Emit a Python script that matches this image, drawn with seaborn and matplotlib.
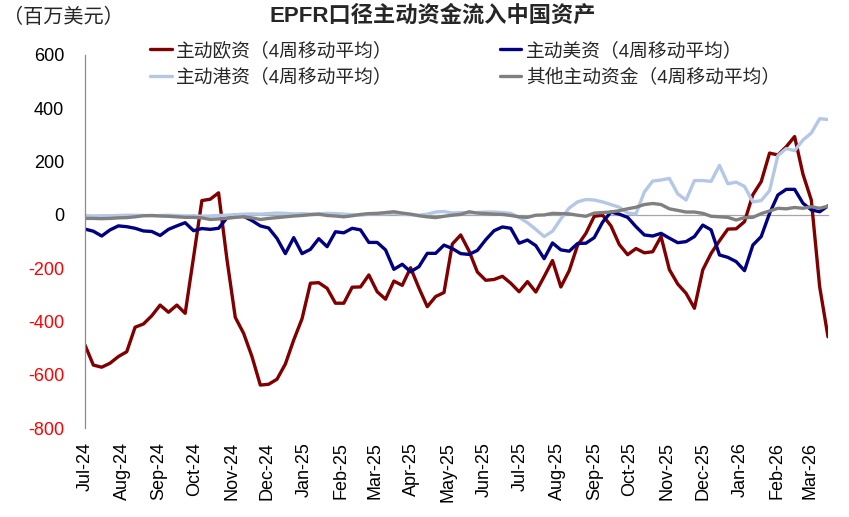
import numpy as np
import pandas as pd
import matplotlib
matplotlib.use("Agg")
import matplotlib.pyplot as plt
import matplotlib.dates as mdates
import seaborn as sns

# ---------------- data ----------------
start_date = "2024-07-03"          # weekly observations

eu = [-489, -564, -572, -557, -532, -514, -422, -410, -379, -339,
      -366, -339, -370, -160, 53, 58, 82, -167, -385, -445,
      -532, -639, -636, -617, -560, -470, -390, -257, -255, -276,
      -332, -332, -272, -271, -226, -289, -317, -249, -265, -199,
      -275, -345, -307, -292, -110, -76, -136, -215, -246, -243,
      -231, -257, -289, -251, -290, -232, -172, -271, -210, -115,
      -70, -6, -2, -42, -112, -150, -127, -143, -139, -82,
      -206, -260, -295, -351, -207, -145, -98, -54, -53, -26,
      75, 124, 231, 224, 255, 293, 152, 55, -270, -458]

us = [-54, -62, -80, -57, -42, -45, -51, -61, -63, -78,
      -55, -42, -30, -60, -52, -55, -51, -12, 0, -6,
      -22, -42, -50, -89, -146, -86, -146, -130, -90, -120,
      -64, -68, -51, -57, -104, -104, -132, -205, -186, -214,
      -195, -145, -145, -114, -127, -146, -149, -134, -94, -60,
      -46, -51, -107, -95, -116, -165, -106, -132, -137, -108,
      -107, -86, -28, 10, 2, -10, -45, -76, -80, -70,
      -88, -105, -101, -82, -39, -57, -151, -160, -176, -210,
      -114, -82, 5, 74, 95, 95, 43, 18, 11, 33]

hk = [-3, -5, -4, -4, -3, -2, -2, -3, -4, -3,
      -2, -3, -5, -4, -6, -5, -3, -2, 0, 2,
      3, 2, 4, 6, 5, 3, 4, 2, 3, 5,
      4, 2, 0, -2, 2, 4, 3, 6, 2, 0,
      -2, 2, 10, 12, 6, 8, 6, 8, 10, 10,
      8, 5, -10, -30, -55, -82, -62, -16, 25, 48,
      57, 55, 48, 38, 28, 6, 3, 85, 126, 130,
      136, 78, 55, 128, 128, 125, 185, 116, 122, 106,
      48, 53, 90, 222, 248, 240, 280, 306, 360, 357]

other = [-14, -14, -15, -14, -12, -11, -8, -4, -3, -5,
         -6, -8, -10, -10, -12, -18, -16, -14, -10, -8,
         -12, -18, -14, -11, -8, -5, -3, 0, 2, -3,
         -5, -8, -4, 1, 4, 5, 8, 11, 6, 2,
         -4, -8, -11, -6, -2, 1, 11, 6, 4, 2,
         1, -3, -8, -10, -2, -1, 5, 4, 3, -2,
         -6, 6, 8, 10, 15, 22, 28, 38, 42, 38,
         22, 16, 10, 10, 5, -6, -8, -10, -20, -11,
         -10, 4, 14, 24, 22, 27, 24, 30, 24, 32]

series_names = ["主动欧资（4周移动平均）", "主动美资（4周移动平均）",
                "主动港资（4周移动平均）", "其他主动资金（4周移动平均）"]
series_colors = ["#800000", "#000080", "#B4C7E7", "#808080"]
y_ticks = [-800, -600, -400, -200, 0, 200, 400, 600]
title_text = "EPFR口径主动资金流入中国资产"
unit_text = "（百万美元）"

# ---------------- style ----------------
sns.set_style("white")
plt.rcParams["font.family"] = ["Liberation Sans", "Noto Sans CJK SC"]
plt.rcParams["axes.unicode_minus"] = False

dates = pd.date_range(start_date, periods=len(eu), freq="7D")
df = pd.concat([pd.DataFrame({"date": dates, "value": v, "series": name})
                for v, name in zip([eu, us, hk, other], series_names)],
               ignore_index=True)

fig = plt.figure(figsize=(8.49, 5.17), dpi=100)
W, H = 849, 517
ax = fig.add_axes([85 / W, 1 - 428 / H, (828 - 85) / W, (428 - 54.7) / H])

sns.lineplot(data=df, x="date", y="value", hue="series", hue_order=series_names,
             palette=dict(zip(series_names, series_colors)), linewidth=2.4,
             ax=ax, legend=True, solid_joinstyle="round")

ax.set_xlim(dates[0], dates[-1])
ax.set_ylim(-800, 600)
ax.set_yticks(y_ticks, labels=[str(v) for v in y_ticks])
for lbl, v in zip(ax.get_yticklabels(), y_ticks):
    lbl.set_color("#FF0000" if v < 0 else "black")

ax.xaxis.set_major_locator(mdates.MonthLocator(bymonthday=3))
ax.xaxis.set_major_formatter(mdates.DateFormatter("%b-%y"))
ax.set_xlabel("")
ax.set_ylabel("")

for s in ["top", "right"]:
    ax.spines[s].set_visible(False)
ax.spines["left"].set_color("#8C8C8C")
ax.spines["left"].set_linewidth(0.9)
ax.spines["bottom"].set_position(("data", 0))
ax.spines["bottom"].set_color("#A6A6A6")
ax.spines["bottom"].set_linewidth(0.9)
ax.spines["bottom"].set_zorder(1)
ax.set_axisbelow(True)

ax.tick_params(axis="x", direction="in", length=4, width=0.8, color="#A6A6A6",
               pad=164, labelrotation=90, labelsize=13, labelcolor="black")
ax.tick_params(axis="y", direction="in", length=4, width=0.8, color="#A6A6A6",
               pad=15, labelsize=13)
ax.grid(False)

handles, labels = ax.get_legend_handles_labels()
ax.get_legend().remove()
order = [0, 2, 1, 3]
fig.legend([handles[i] for i in order], [labels[i] for i in order],
           loc="upper left", bbox_to_anchor=(150 / W, 1 - 42 / H), ncol=2,
           frameon=False, fontsize=13.5, handlelength=1.15, handletextpad=0.25,
           columnspacing=5.7, labelspacing=0.45, borderpad=0, borderaxespad=0)

fig.text(0.51, 1 - 16 / H, title_text, ha="center", va="center",
         fontsize=16, fontweight="bold")
fig.text(0.004, 1 - 17 / H, unit_text, ha="left", va="center", fontsize=14.5)

fig.savefig("out.png", dpi=100)
